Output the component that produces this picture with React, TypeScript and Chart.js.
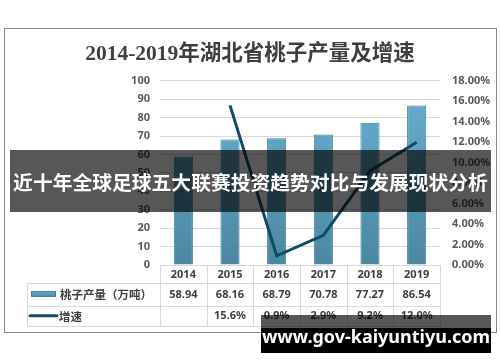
import React, { useEffect, useRef } from "react";
import { Chart, registerables } from "chart.js";

Chart.register(...registerables);

const titleText = "2014-2019年湖北省桃子产量及增速";
const years = ["2014", "2015", "2016", "2017", "2018", "2019"];
const production = [58.94, 68.16, 68.79, 70.78, 77.27, 86.54];
const growth = [null, 15.6, 0.9, 2.9, 9.2, 12.0];
const seriesNames = ["桃子产量（万吨）", "增速"];
const leftAxis = { min: 0, max: 100, step: 10 };
const rightAxis = { min: 0, max: 18, step: 2 };
const bannerText = "近十年全球足球五大联赛投资趋势对比与发展现状分析";
const watermarkText = "www.gov-kaiyuntiyu.com";

const BAR_TOP = "#69b0d3";
const BAR_BOTTOM = "#4b87a1";
const BAR_BORDER = "#3f7d99";
const LINE_COLOR = "#0f4c63";
const GRID = "#d9d9d9";
const SANS = '"Noto Sans", "Noto Sans CJK SC", sans-serif';
const CJK = '"Noto Sans CJK SC", "Noto Sans", sans-serif';

const tablePlugin = {
  id: "dataTable",
  afterDraw(chart: any) {
    const { ctx, chartArea } = chart;
    const n = years.length;
    const left = chartArea.left;
    const right = chartArea.right;
    const cw = (right - left) / n;
    const top = chartArea.bottom;
    const r1 = top + 18;
    const r2 = r1 + 22.5;
    const r3 = r2 + 20.5;
    const tableLeft = 27;
    const px = (v: number) => Math.round(v) + 0.5;
    ctx.save();
    ctx.strokeStyle = GRID;
    ctx.lineWidth = 1;
    const line = (x1: number, y1: number, x2: number, y2: number) => {
      ctx.beginPath();
      ctx.moveTo(x1, y1);
      ctx.lineTo(x2, y2);
      ctx.stroke();
    };
    line(left, px(top), right, px(top));
    line(tableLeft, px(r1), right, px(r1));
    line(tableLeft, px(r2), right, px(r2));
    line(tableLeft, px(r3), right, px(r3));
    for (let i = 0; i <= n; i++) {
      const xb = px(left + i * cw);
      line(xb, top, xb, r3);
    }
    line(px(tableLeft), r1, px(tableLeft), r3);

    // texts
    ctx.fillStyle = "#404040";
    ctx.textAlign = "center";
    ctx.textBaseline = "middle";
    ctx.font = "bold 11px " + SANS;
    const xs = chart.scales.x;
    years.forEach((y, i) => {
      ctx.fillText(y, xs.getPixelForValue(i), (top + r1) / 2 + 0.5);
    });
    production.forEach((v, i) => {
      ctx.fillText(v.toFixed(2), xs.getPixelForValue(i), (r1 + r2) / 2 + 0.5);
    });
    growth.forEach((v, i) => {
      if (v === null) return;
      ctx.fillText(v.toFixed(1) + "%", xs.getPixelForValue(i), (r2 + r3) / 2 + 0.5);
    });

    // legend keys
    const g = ctx.createLinearGradient(0, 291, 0, 297);
    g.addColorStop(0, BAR_TOP);
    g.addColorStop(1, BAR_BOTTOM);
    ctx.fillStyle = g;
    ctx.fillRect(31, 291, 25, 6);
    ctx.strokeStyle = BAR_BORDER;
    ctx.strokeRect(31.5, 291.5, 24, 5);
    ctx.strokeStyle = LINE_COLOR;
    ctx.lineWidth = 3;
    ctx.lineCap = "round";
    line(30, (r2 + r3) / 2, 57, (r2 + r3) / 2);

    ctx.fillStyle = "#404040";
    ctx.textAlign = "left";
    ctx.font = "bold 11.5px " + CJK;
    ctx.fillText(seriesNames[0], 60, (r1 + r2) / 2 + 0.5);
    ctx.fillText(seriesNames[1], 59, (r2 + r3) / 2 + 0.5);
    ctx.restore();
  },
};

let gradCache: any = null;
function barFill(c: any) {
  const chart = c.chart;
  const area = chart.chartArea;
  if (!area) return BAR_TOP;
  if (!gradCache || gradCache.top !== area.top || gradCache.bottom !== area.bottom) {
    const g = chart.ctx.createLinearGradient(0, area.top, 0, area.bottom);
    g.addColorStop(0, BAR_TOP);
    g.addColorStop(1, BAR_BOTTOM);
    gradCache = { top: area.top, bottom: area.bottom, g };
  }
  return gradCache.g;
}

export default function App() {
  const ref = useRef<HTMLCanvasElement>(null);
  useEffect(() => {
    if (!ref.current) return;
    const chart = new Chart(ref.current, {
      data: {
        labels: years,
        datasets: [
          {
            type: "line",
            label: seriesNames[1],
            data: growth,
            yAxisID: "y1",
            borderColor: LINE_COLOR,
            borderWidth: 3,
            pointRadius: 0,
            tension: 0,
            order: 0,
          },
          {
            type: "bar",
            label: seriesNames[0],
            data: production,
            yAxisID: "y",
            backgroundColor: barFill,
            borderColor: BAR_BORDER,
            borderWidth: 1,
            categoryPercentage: 1,
            barPercentage: 0.41,
            order: 1,
          },
        ],
      } as any,
      options: {
        responsive: false,
        animation: false,
        devicePixelRatio: 1,
        layout: { padding: { top: 0, bottom: 97, left: 0, right: 0 } },
        plugins: {
          legend: { display: false },
          tooltip: { enabled: false },
          title: {
            display: true,
            text: titleText,
            color: "#3f3f3f",
            font: { family: '"Liberation Serif", "Noto Sans CJK SC", serif', size: 21.5, weight: "bold", lineHeight: 1.2 },
            padding: { top: 42, bottom: 13 },
          },
        },
        scales: {
          x: {
            type: "category",
            display: false,
            offset: true,
          },
          y: {
            position: "left",
            min: leftAxis.min,
            max: leftAxis.max,
            ticks: {
              stepSize: leftAxis.step,
              padding: 10,
              color: "#595959",
              font: { family: SANS, size: 11, weight: "bold" },
            },
            grid: { color: GRID, drawTicks: false },
            border: { display: false },
            afterFit: (s: any) => {
              s.width = 160;
            },
          },
          y1: {
            position: "right",
            min: rightAxis.min,
            max: rightAxis.max,
            ticks: {
              stepSize: rightAxis.step,
              padding: 12,
              color: "#595959",
              font: { family: SANS, size: 11, weight: "bold" },
              callback: (v: any) => Number(v).toFixed(2) + "%",
            },
            grid: { display: false, drawTicks: false },
            border: { display: false },
            afterFit: (s: any) => {
              s.width = 60;
            },
          },
        },
      } as any,
      plugins: [tablePlugin],
    });
    return () => chart.destroy();
  }, []);

  return (
    <div style={{ position: "fixed", left: 0, top: 0, width: 500, height: 362, background: "#fff", overflow: "hidden" }}>
      <div
        style={{
          position: "absolute",
          left: 4,
          top: 28,
          width: 493,
          height: 305,
          border: "1px solid #8a8a8a",
          boxSizing: "border-box",
        }}
      />
      <canvas ref={ref} width={500} height={362} style={{ position: "absolute", left: 0, top: 0, width: 500, height: 362 }} />
      <div
        style={{
          position: "absolute",
          left: 10,
          top: 150,
          width: 481,
          height: 62,
          background: "rgba(0,0,0,0.66)",
          display: "flex",
          alignItems: "center",
          justifyContent: "center",
          overflow: "visible",
        }}
      >
        <span
          style={{
            color: "#fff",
            fontFamily: CJK,
            fontWeight: "bold",
            fontSize: 19.8,
            lineHeight: "24px",
            whiteSpace: "nowrap",
            marginTop: 2,
          }}
        >
          {bannerText}
        </span>
      </div>
      <div style={{ position: "absolute", left: 261, top: 315, width: 230, height: 38, background: "rgba(0,0,0,0.66)" }} />
      <div style={{ position: "absolute", left: 261, top: 328, width: 230, height: 25, background: "#000" }} />
      <div
        style={{
          position: "absolute",
          left: 261,
          top: 315,
          width: 230,
          height: 38,
          color: "#fff",
          fontFamily: SANS,
          fontWeight: "bold",
          fontSize: 18,
          lineHeight: "38px",
          textAlign: "center",
          whiteSpace: "nowrap",
          paddingTop: 2,
          boxSizing: "border-box",
        }}
      >
        {watermarkText}
      </div>
    </div>
  );
}
